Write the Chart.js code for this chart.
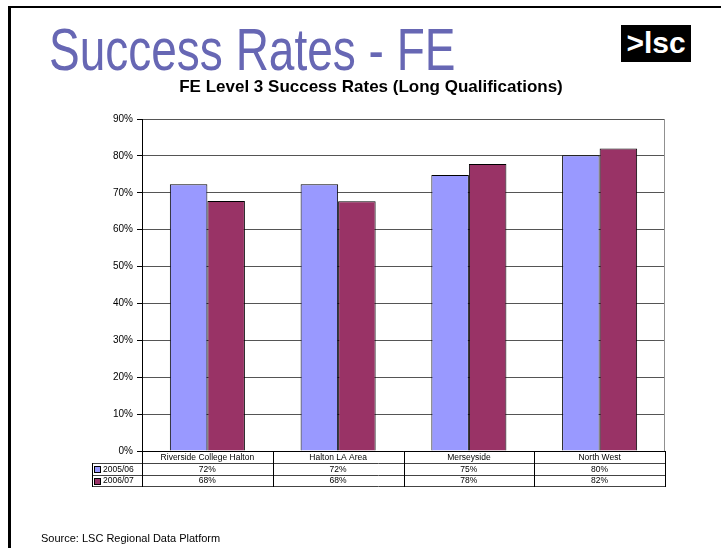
<!DOCTYPE html>
<html>
<head>
<meta charset="utf-8">
<script src="https://cdn.jsdelivr.net/npm/chart.js@4.4.0/dist/chart.umd.min.js"></script>
<style>
  html, body { margin:0; padding:0; background:#fff; }
  #wrap { position:relative; width:721px; height:548px; overflow:hidden; font-family:"Liberation Sans", Arial, sans-serif; }
  #frameL { position:absolute; left:8px; top:6px; width:3px; height:560px; background:#000; }
  #frameT { position:absolute; left:8px; top:6px; width:720px; height:2px; background:#000; }
  #title { position:absolute; left:49px; top:31px; font-size:46px; line-height:46px; color:#6767b4; white-space:nowrap; transform:scaleY(1.3); transform-origin:0 40px; }
  #sub { position:absolute; left:0; width:742px; text-align:center; top:78px; font-size:17px; line-height:17px; font-weight:bold; color:#000; white-space:nowrap; }
  #logo { position:absolute; left:621px; top:25px; width:70px; height:37px; background:#000; color:#fff; font-size:30px; font-weight:bold; text-align:center; line-height:35px; }
  #source { position:absolute; left:41px; top:532px; font-size:11px; color:#000; white-space:nowrap; }
  canvas { position:absolute; left:0; top:0; }
</style>
</head>
<body>
<div id="wrap">
  <canvas id="c" width="721" height="548"></canvas>
  <div id="frameL"></div>
  <div id="frameT"></div>
  <div id="title">Success Rates - FE</div>
  <div id="sub">FE Level 3 Success Rates (Long Qualifications)</div>
  <div id="logo">&gt;lsc</div>
  <div id="source">Source: LSC Regional Data Platform</div>
</div>
<script>
const categories = ["Riverside College Halton", "Halton LA Area", "Merseyside", "North West"];
const seriesNames = ["2005/06", "2006/07"];
const series2005 = [72.3, 72.3, 74.8, 80.2];
const series2006 = [67.8, 67.7, 77.8, 82.0];
const yTicks = [0, 10, 20, 30, 40, 50, 60, 70, 80, 90];
const colors = ["#9999ff", "#993366"];

const tablePlugin = {
  id: 'dataTable',
  afterDraw(chart) {
    const ctx = chart.ctx;
    const xs = chart.scales.x;
    const area = chart.chartArea;
    const n = categories.length;
    const step = (area.right - area.left) / n;
    const top = area.bottom;
    const rowH = [12, 12, 11];
    const tableLeft = 92;
    const y1 = top + rowH[0], y2 = y1 + rowH[1], y3 = y2 + rowH[2];
    ctx.save();
    ctx.lineWidth = 1;
    ctx.strokeStyle = '#000';
    ctx.beginPath();
    ctx.moveTo(area.left, top + 0.5); ctx.lineTo(area.right, top + 0.5);
    ctx.stroke();
    ctx.strokeStyle = '#444';
    ctx.beginPath();
    ctx.moveTo(tableLeft, Math.round(y1) + 0.5); ctx.lineTo(area.right, Math.round(y1) + 0.5);
    ctx.moveTo(tableLeft, Math.round(y2) + 0.5); ctx.lineTo(area.right, Math.round(y2) + 0.5);
    ctx.moveTo(tableLeft, Math.round(y3) + 0.5); ctx.lineTo(area.right, Math.round(y3) + 0.5);
    ctx.stroke();
    ctx.strokeStyle = '#000';
    ctx.beginPath();
    ctx.moveTo(tableLeft + 0.5, Math.round(y1)); ctx.lineTo(tableLeft + 0.5, Math.round(y3) + 1);
    for (let i = 0; i <= n; i++) {
      const x = Math.round(area.left + i * step) + 0.5;
      ctx.moveTo(x, top); ctx.lineTo(x, Math.round(y3) + 1);
    }
    ctx.stroke();
    ctx.fillStyle = '#000';
    ctx.font = '8.5px "Liberation Sans", Arial, sans-serif';
    ctx.textAlign = 'center';
    ctx.textBaseline = 'middle';
    const data = [series2005, series2006];
    for (let i = 0; i < n; i++) {
      const cx = xs.getPixelForValue(i);
      ctx.fillText(categories[i], cx, top + rowH[0] / 2 + 0.5);
      ctx.fillText(Math.round(data[0][i]) + '%', cx, y1 + rowH[1] / 2 + 0.5);
      ctx.fillText(Math.round(data[1][i]) + '%', cx, y2 + rowH[2] / 2 + 0.5);
    }
    ctx.textAlign = 'left';
    const rowsY = [y1, y2];
    for (let s = 0; s < 2; s++) {
      const ry = rowsY[s] + (rowH[s + 1]) / 2;
      ctx.fillStyle = colors[s];
      ctx.fillRect(94.5, Math.round(ry - 3) + 0.5, 6, 6);
      ctx.strokeStyle = '#000';
      ctx.strokeRect(94.5, Math.round(ry - 3) + 0.5, 6, 6);
      ctx.fillStyle = '#000';
      ctx.fillText(seriesNames[s], 103, ry + 0.5);
    }
    ctx.strokeStyle = '#909090';
    ctx.beginPath();
    ctx.moveTo(Math.round(area.right) - 0.5, area.top); ctx.lineTo(Math.round(area.right) - 0.5, area.bottom);
    ctx.stroke();
    ctx.restore();
  }
};

new Chart(document.getElementById('c'), {
  type: 'bar',
  data: {
    labels: categories,
    datasets: [
      { label: seriesNames[0], data: series2005, backgroundColor: colors[0], borderColor: '#000', borderWidth: 1, borderSkipped: 'bottom' },
      { label: seriesNames[1], data: series2006, backgroundColor: colors[1], borderColor: '#000', borderWidth: 1, borderSkipped: 'bottom' }
    ]
  },
  options: {
    responsive: false,
    animation: false,
    events: [],
    layout: { padding: { left: 0, right: 56, top: 119, bottom: 97 } },
    plugins: { legend: { display: false }, tooltip: { enabled: false }, title: { display: false } },
    datasets: { bar: { categoryPercentage: 0.574, barPercentage: 1.0 } },
    scales: {
      x: {
        ticks: { display: false },
        grid: { display: false, drawTicks: false },
        border: { display: false },
        afterFit(scale) { scale.height = 0; }
      },
      y: {
        min: 0, max: 90,
        afterBuildTicks(scale) { scale.ticks = yTicks.map(v => ({ value: v })); },
        ticks: {
          color: '#000',
          font: { family: '"Liberation Sans", Arial, sans-serif', size: 10 },
          padding: 4,
          callback: v => v + '%'
        },
        grid: { color: '#555', lineWidth: 1, tickLength: 5, tickColor: '#000' },
        border: { display: true, color: '#000', width: 1 },
        afterFit(scale) { scale.width = 142; }
      }
    }
  },
  plugins: [tablePlugin]
});
</script>
</body>
</html>
